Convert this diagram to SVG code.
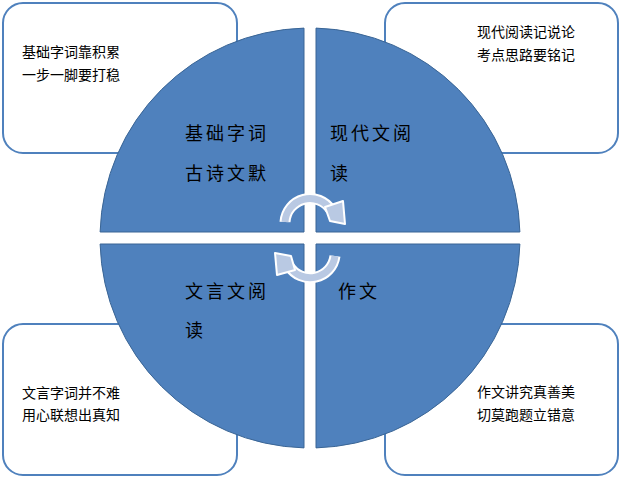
<svg xmlns="http://www.w3.org/2000/svg" width="621" height="478" viewBox="0 0 621 478">
<style>
.box{fill:#fff;stroke:#4F81BD;stroke-width:2}
.q{fill:#4F81BD;stroke:#3A6595;stroke-width:1}
.bt{font-family:"Liberation Sans","Noto Sans CJK SC",sans-serif;font-size:14px;fill:#000}
.qt{font-family:"Liberation Sans","Noto Sans CJK SC",sans-serif;font-size:18px;fill:#000;letter-spacing:3px}
.ao{fill:none;stroke:#fff;stroke-width:11}
.ai{fill:none;stroke:#B9C9E3;stroke-width:7}
.ah{fill:#B9C9E3;stroke:#fff;stroke-width:2;stroke-linejoin:round}
</style>
<g id="box-tl"><rect class="box" x="3" y="3" width="234" height="150" rx="20"/><text class="bt" x="22" y="57">基础字词靠积累</text><text class="bt" x="22" y="80">一步一脚要打稳</text></g>
<g id="box-tr"><rect class="box" x="385" y="3" width="233" height="150" rx="20"/><text class="bt" x="477" y="37">现代阅读记说论</text><text class="bt" x="477" y="60">考点思路要铭记</text></g>
<g id="box-bl"><rect class="box" x="3" y="324" width="234" height="151" rx="20"/><text class="bt" x="22" y="398">文言字词并不难</text><text class="bt" x="22" y="420">用心联想出真知</text></g>
<g id="box-br"><rect class="box" x="385" y="324" width="233" height="151" rx="20"/><text class="bt" x="477" y="397">作文讲究真善美</text><text class="bt" x="477" y="420">切莫跑题立错意</text></g>
<g id="q-tl"><path class="q" d="M304,232 V28.1 A210,210 0 0 0 100.1,232 Z"/><text class="qt" x="185" y="140">基础字词</text><text class="qt" x="185" y="180">古诗文默</text></g>
<g id="q-tr"><path class="q" d="M316,232 V28.1 A210,210 0 0 1 519.9,232 Z"/><text class="qt" x="330" y="140">现代文阅</text><text class="qt" x="330" y="180">读</text></g>
<g id="q-bl"><path class="q" d="M304,244 V447.9 A210,210 0 0 1 100.1,244 Z"/><text class="qt" x="185" y="298">文言文阅</text><text class="qt" x="185" y="337">读</text></g>
<g id="q-br"><path class="q" d="M316,244 V447.9 A210,210 0 0 0 519.9,244 Z"/><text class="qt" x="338" y="298">作文</text></g>
<g id="connectors">
<path class="ao" d="M285,222 A25,25 0 0 1 331,210"/><path class="ai" d="M285,222 A25,25 0 0 1 331,210"/>
<polygon class="ah" points="325,207 343,201 345,224 330,221"/>
<path class="ao" d="M335,256 A25,25 0 0 1 289,266"/><path class="ai" d="M335,256 A25,25 0 0 1 289,266"/>
<polygon class="ah" points="295,270 277,275 275,253 291,256"/>
</g>
</svg>
